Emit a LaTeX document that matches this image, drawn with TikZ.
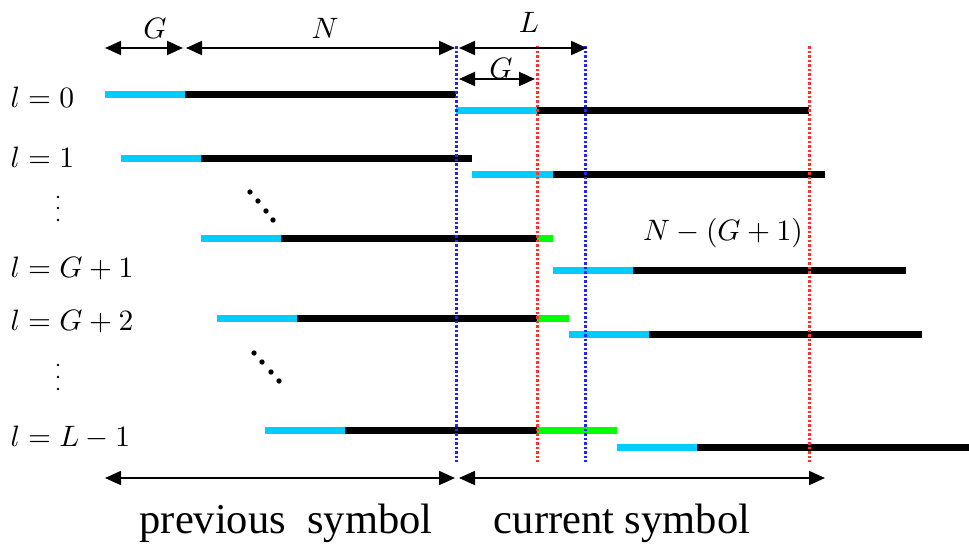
\documentclass[tikz,border=0pt]{standalone}
\usepackage{fontspec}
\setmainfont{Liberation Serif}
\usetikzlibrary{arrows.meta}
\definecolor{cpcyan}{RGB}{0,204,255}
\definecolor{ovgreen}{RGB}{0,255,0}
\definecolor{dotblue}{RGB}{35,35,255}
\definecolor{dotred}{RGB}{255,50,50}
\begin{document}
\begin{tikzpicture}[x=1pt,y=-1pt,
  cp/.style={line width=7pt, cpcyan},
  body/.style={line width=7pt, black},
  over/.style={line width=7pt, ovgreen},
  bnd/.style={line width=3pt, dash pattern=on 2.5pt off 2pt},
  dim/.style={line width=1.9pt, {Triangle[length=16pt,width=14pt]}-{Triangle[length=16pt,width=14pt]}},
  lab/.style={scale=2.95, inner sep=0pt},
  txt/.style={scale=4.25}]
\useasboundingbox (0,0) rectangle (969,552);

% previous symbols
\draw[cp] (105,94) -- (185,94);
\draw[body] (185,94) -- (456,94);
\draw[cp] (121,158) -- (201,158);
\draw[body] (201,158) -- (472,158);
\draw[cp] (201,238) -- (281,238);
\draw[body] (281,238) -- (537,238);
\draw[over] (537,238) -- (553,238);
\draw[cp] (217,318) -- (297,318);
\draw[body] (297,318) -- (537,318);
\draw[over] (537,318) -- (569,318);
\draw[cp] (265,430) -- (345,430);
\draw[body] (345,430) -- (537,430);
\draw[over] (537,430) -- (617,430);

% current symbols
\draw[cp] (456,110) -- (537,110);
\draw[body] (537,110) -- (809,110);
\draw[cp] (472,174) -- (553,174);
\draw[body] (553,174) -- (825,174);
\draw[cp] (553,270) -- (633,270);
\draw[body] (633,270) -- (906,270);
\draw[cp] (569,334) -- (649,334);
\draw[body] (649,334) -- (922,334);
\draw[cp] (617,447) -- (697,447);
\draw[body] (697,447) -- (969,447);

% boundaries
\draw[bnd, dotblue] (456,46) -- (456,462);
\draw[bnd, dotred] (537,46) -- (537,462);
\draw[bnd, dotblue] (585,46) -- (585,462);
\draw[bnd, dotred] (809,46) -- (809,462);

% dimension arrows
\coordinate (gA) at (105,48);
\coordinate (gB) at (183,48);
\coordinate (nA) at (186,48);
\coordinate (nB) at (455,48);
\coordinate (lA) at (459,48);
\coordinate (lB) at (587,48);
\coordinate (cA) at (459,79);
\coordinate (cB) at (535,79);
\coordinate (pA) at (105,478);
\coordinate (pB) at (455,478);
\coordinate (sA) at (459,478);
\coordinate (sB) at (825,478);
\draw[dim] (gA) -- (gB);
\draw[dim] (nA) -- (nB);
\draw[dim] (lA) -- (lB);
\draw[dim] (cA) -- (cB);
\draw[dim] (pA) -- (pB);
\draw[dim] (sA) -- (sB);

\node[lab] (gLab) at (155,28) {$G$};
\node[lab] (nLab) at (325,28) {$N$};
\node[lab] (lLab) at (529,22) {$L$};
\node[lab] (cLab) at (501,68) {$G$};
\node[lab] (rest) at (723,233) {$N-(G+1)$};

% row labels
\node[lab, anchor=west] (r0) at (10,97) {$l=0$};
\node[lab, anchor=west] (r1) at (10,157) {$l=1$};
\node[lab, anchor=west] (rG1) at (10,268) {$l=G+1$};
\node[lab, anchor=west] (rG2) at (10,321) {$l=G+2$};
\node[lab, anchor=west] (rL) at (10,437) {$l=L-1$};

% dots
\fill (58,197) circle (1.3pt);
\fill (58,208) circle (1.3pt);
\fill (58,220) circle (1.3pt);
\fill (58,365) circle (1.3pt);
\fill (58,377) circle (1.3pt);
\fill (58,389) circle (1.3pt);
\fill (250,192) circle (2.7pt);
\fill (258,201) circle (2.7pt);
\fill (266,211) circle (2.7pt);
\fill (273,220) circle (2.7pt);
\fill (254,353) circle (2.7pt);
\fill (262,362) circle (2.7pt);
\fill (271,372) circle (2.7pt);
\fill (279,381) circle (2.7pt);

\node[txt] (prev) at (286,523) {previous~~symbol};
\node[txt] (curr) at (622,523) {current symbol};
\end{tikzpicture}
\end{document}
